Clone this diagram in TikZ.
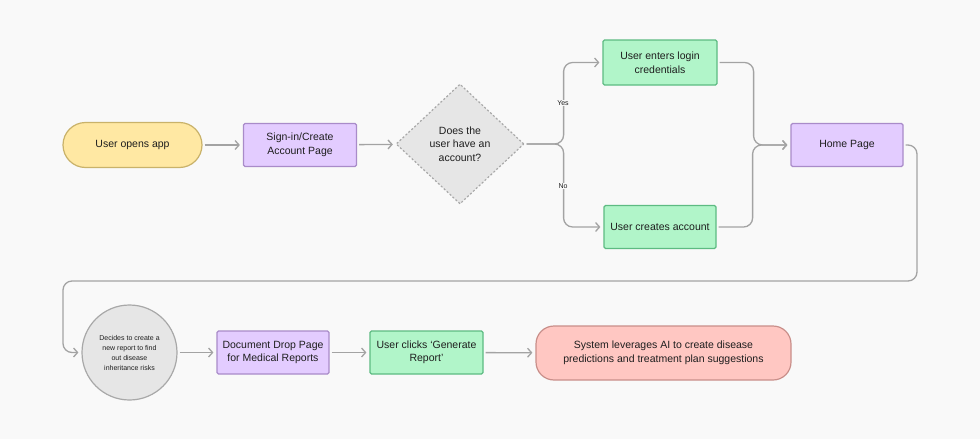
\documentclass[tikz,border=0pt]{standalone}
\usepackage{fontspec}
\setmainfont{Liberation Sans}
\usetikzlibrary{shapes.geometric,arrows.meta}
\definecolor{bgc}{HTML}{F9F9F9}
\definecolor{linec}{HTML}{A3A3A3}
\definecolor{txtc}{HTML}{1E1E1E}
\definecolor{yelf}{HTML}{FFE8A3}
\definecolor{yeld}{HTML}{C9B26A}
\definecolor{purf}{HTML}{E3CCFF}
\definecolor{purd}{HTML}{A98BC9}
\definecolor{grnf}{HTML}{B1F5C9}
\definecolor{grnd}{HTML}{5DBB82}
\definecolor{gryf}{HTML}{E6E6E6}
\definecolor{gryd}{HTML}{A8A8A8}
\definecolor{pnkf}{HTML}{FFC7C2}
\definecolor{pnkd}{HTML}{C98F8A}
\tikzset{
  base/.style={inner sep=0pt, align=center, text=txtc, font=\fontsize{10.5}{13.5}\selectfont, line width=1.2pt},
  boxp/.style={base, draw=purd, fill=purf, rounded corners=1.5pt},
  boxg/.style={base, draw=grnd, fill=grnf, rounded corners=1.5pt},
  conn/.style={draw=linec, line width=1.3pt, -{Straight Barb[length=4pt,width=9pt,line width=1.3pt]}, shorten >=3pt, shorten <=2pt, rounded corners=9pt},
  lbl/.style={fill=bgc, inner sep=1pt, text=txtc, font=\fontsize{7}{8}\selectfont}
}
\begin{document}
\begin{tikzpicture}[x=1pt,y=-1pt]
\fill[bgc] (0,0) rectangle (980,439);
\useasboundingbox (0,0) rectangle (980,439);

\node[base, draw=yeld, fill=yelf, rounded corners=22.5pt, minimum width=139pt, minimum height=45pt] (open) at (132.5,145) {User opens app};
\node[boxp, minimum width=113pt, minimum height=43pt] (signin) at (300,145) {Sign-in/Create\\Account Page};
\node[base, diamond, aspect=1, draw=gryd, fill=gryf, dash pattern=on 2pt off 2pt, minimum width=128pt, minimum height=120pt] (dia) at (460,144) {Does the\\user have an\\account?};
\node[boxg, minimum width=114pt, minimum height=45pt] (login) at (660,62.5) {User enters login\\credentials};
\node[boxg, minimum width=112pt, minimum height=43pt] (create) at (660,227) {User creates account};
\node[boxp, minimum width=112pt, minimum height=43pt] (home) at (847,145) {Home Page};

\node[base, circle, draw=gryd, fill=gryf, minimum size=95pt, font=\fontsize{7}{10}\selectfont] (circ) at (129.5,352.5) {Decides to create a\\new report to find\\out disease\\inheritance risks};
\node[boxp, minimum width=112pt, minimum height=43pt] (doc) at (273,352.5) {Document Drop Page\\for Medical Reports};
\node[boxg, minimum width=113pt, minimum height=43pt] (click) at (426.5,352.5) {User clicks `Generate\\Report'};
\node[base, draw=pnkd, fill=pnkf, rounded corners=18pt, minimum width=255pt, minimum height=54pt] (sys) at (663.5,353) {System leverages AI to create disease\\predictions and treatment plan suggestions};

\coordinate (bendA) at (917,281);
\coordinate (bendB) at (63,281);

\draw[conn] (open) -- (signin);
\draw[conn] (signin) -- (dia);
\draw[conn] (dia.east) -- ++(39,0) |- (login.west);
\draw[conn] (dia.east) -- ++(39,0) |- (create.west);
\draw[conn] (login.east) -- ++(36,0) |- (home.west);
\draw[conn] (create.east) -- ++(36,0) |- (home.west);
\draw[conn] (home.east) -| (bendA) -- (bendB) |- (circ.west);
\draw[conn] (circ) -- (doc);
\draw[conn] (doc) -- (click);
\draw[conn] (click) -- (sys);

\node[lbl] (yes) at (563,103) {Yes};
\node[lbl] (no) at (563,186) {No};
\end{tikzpicture}
\end{document}
